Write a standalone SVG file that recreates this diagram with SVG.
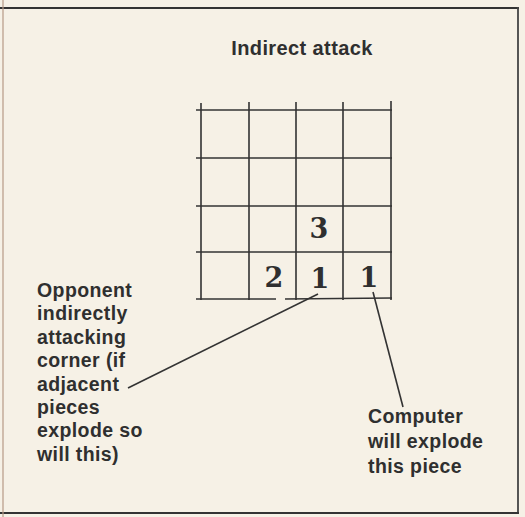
<svg xmlns="http://www.w3.org/2000/svg" width="525" height="517" viewBox="0 0 525 517">
<style>
.t{font-family:"Liberation Sans",Arial,sans-serif;font-weight:bold;fill:#2f2f2f;font-size:19.5px;letter-spacing:0.4px}
.n{font-family:"DejaVu Serif","Liberation Serif",serif;font-weight:bold;fill:#2f2f2f;font-size:27px;text-anchor:middle}
.g{stroke:#333;stroke-width:1.6;fill:none}
.c{stroke:#333;stroke-width:1.6;fill:none}
</style>
<rect x="0" y="0" width="525" height="517" fill="#f6f1e6"/>
<g id="frame" fill="none">
<line x1="0" y1="8" x2="519" y2="8" stroke="#333" stroke-width="1.8"/>
<line x1="518" y1="7" x2="518" y2="514" stroke="#444" stroke-width="1.8"/>
<line x1="0" y1="513" x2="519" y2="513" stroke="#333" stroke-width="1.8"/>
<line x1="3" y1="0" x2="3" y2="517" stroke="#b89a86" stroke-width="1.2"/>
</g>
<g id="title"><text class="t" x="302" y="55" text-anchor="middle" style="font-size:20px">Indirect attack</text></g>
<g id="grid" class="g">
<line x1="201" y1="103" x2="201" y2="300"/>
<line x1="249" y1="102" x2="249" y2="300"/>
<line x1="296" y1="102" x2="296" y2="300"/>
<line x1="343" y1="102" x2="343" y2="300"/>
<line x1="391" y1="101" x2="391" y2="300"/>
<line x1="196" y1="110" x2="392" y2="110"/>
<line x1="196" y1="158" x2="392" y2="158"/>
<line x1="196" y1="206" x2="392" y2="206"/>
<line x1="196" y1="252" x2="392" y2="252"/>
<line x1="196" y1="299" x2="276" y2="299"/>
<line x1="285" y1="299" x2="392" y2="298"/>
</g>
<g id="cells">
<text class="n" x="319" y="238">3</text>
<text class="n" x="274" y="287">2</text>
<text class="n" x="320" y="288">1</text>
<text class="n" x="369" y="287">1</text>
</g>
<g id="connectors" class="c">
<line x1="318" y1="294" x2="128" y2="388"/>
<line x1="373" y1="292" x2="403" y2="407"/>
</g>
<g id="label-opponent">
<text class="t" x="37" y="297">Opponent</text>
<text class="t" x="37" y="320">indirectly</text>
<text class="t" x="37" y="344">attacking</text>
<text class="t" x="37" y="367">corner (if</text>
<text class="t" x="37" y="391">adjacent</text>
<text class="t" x="37" y="414">pieces</text>
<text class="t" x="37" y="437">explode so</text>
<text class="t" x="37" y="461">will this)</text>
</g>
<g id="label-computer">
<text class="t" x="368" y="423">Computer</text>
<text class="t" x="368" y="448">will explode</text>
<text class="t" x="368" y="473">this piece</text>
</g>
</svg>
